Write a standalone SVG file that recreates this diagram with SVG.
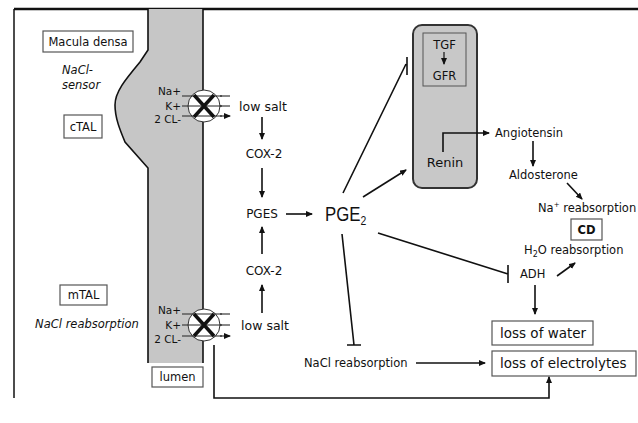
<svg xmlns="http://www.w3.org/2000/svg" width="638" height="423" viewBox="0 0 638 423">
<defs>
<marker id="ah" markerWidth="8" markerHeight="8" refX="6" refY="3" orient="auto" markerUnits="userSpaceOnUse">
<path d="M0,0 L7,3 L0,6 z" fill="#111"/>
</marker>
</defs>
<style>
text{font-family:"DejaVu Sans","Liberation Sans",sans-serif;fill:#111;font-size:11.5px}
.c{text-anchor:middle}
.r{text-anchor:end}
.it{font-style:italic}
.ion{font-size:10.5px}
.s12{font-size:12px}
.s125{font-size:12.5px}
.s13{font-size:13px}
.box{fill:#fff;stroke:#555;stroke-width:1.2}
.ln{stroke:#111;stroke-width:1.6;fill:none}
.ar{stroke:#111;stroke-width:1.6;fill:none;marker-end:url(#ah)}
.big{font-size:13.5px}
.thin{stroke:#222;stroke-width:1;fill:none}
.pge{font-family:"Liberation Sans",Arial,sans-serif;font-size:21px}
</style>
<rect width="638" height="423" fill="#fff"/>
<g id="frame">
<path d="M14,9 L638,9" stroke="#111" stroke-width="2.5"/>
<path d="M14,9 L14,398" stroke="#111" stroke-width="1.5"/>
</g>
<g id="tube">
<path d="M148,9 L148,50 L140,62 C125,80 115,92 115,105 C115,118 120,130 125,142 L148,168 L148,363 L203,363 L203,9 Z" fill="#c6c6c6"/>
<path d="M148,9 L148,50 L140,62 C125,80 115,92 115,105 C115,118 120,130 125,142 L148,168 L148,363" class="ln"/>
<path d="M203,9 L203,363" class="ln"/>
</g>
<g id="macula-densa"><rect class="box" x="43" y="31" width="90" height="21"/><text class="c" x="88" y="46">Macula densa</text></g>
<g id="nacl-sensor"><text class="it" x="62" y="74">NaCl-</text><text class="it" x="62" y="89">sensor</text></g>
<g id="ctal"><rect class="box" x="64" y="115" width="38" height="23"/><text class="c" x="83" y="131">cTAL</text></g>
<g id="mtal"><rect class="box" x="60" y="285" width="47" height="20"/><text class="c" x="83.5" y="299">mTAL</text></g>
<g id="nacl-reabs-italic"><text class="it c" x="87" y="328">NaCl reabsorption</text></g>
<g id="lumen"><rect class="box" x="152" y="367" width="51" height="20"/><text class="c" x="177.5" y="381">lumen</text></g>
<g id="transporter-top">
<text class="r ion" x="181" y="95">Na+</text>
<text class="r ion" x="181" y="110">K+</text>
<text class="r ion" x="181" y="123">2 CL-</text>
<circle cx="204" cy="106" r="16" fill="#fff" stroke="#333" stroke-width="1"/>
<path class="thin" d="M182,96 L222,96 M182,106 L222,106 M182,116 L222,116"/>
<path class="ar" style="stroke-width:1" d="M220,96 L230,96 M220,106 L230,106 M220,116 L230,116"/>
<path d="M194,95 L214,117 M214,95 L194,117" stroke="#111" stroke-width="3.5"/>
</g>
<g id="transporter-bottom">
<text class="r ion" x="181" y="314">Na+</text>
<text class="r ion" x="181" y="329">K+</text>
<text class="r ion" x="181" y="343">2 CL-</text>
<circle cx="204" cy="325" r="16" fill="#fff" stroke="#333" stroke-width="1"/>
<path class="thin" d="M182,314 L222,314 M182,325 L222,325 M182,336 L222,336"/>
<path class="ar" style="stroke-width:1" d="M220,314 L230,314 M220,325 L230,325 M220,336 L230,336"/>
<path d="M194,314 L214,336 M214,314 L194,336" stroke="#111" stroke-width="3.5"/>
</g>
<g id="low-salt-top"><text class="c s125" x="263" y="111">low salt</text></g>
<g id="cox2-top"><text class="c s12" x="264" y="158">COX-2</text></g>
<g id="pges"><text class="c s12" x="262" y="218">PGES</text></g>
<g id="pge2"><text class="pge" transform="translate(325,221) scale(0.8,1)">PGE<tspan font-size="13" dy="4">2</tspan></text></g>
<g id="cox2-bottom"><text class="c s12" x="264" y="275">COX-2</text></g>
<g id="low-salt-bottom"><text class="c s125" x="265" y="330">low salt</text></g>
<g id="renin">
<rect x="413" y="25" width="64" height="163" rx="9" fill="#c8c8c8" stroke="#333" stroke-width="2"/>
<rect x="423" y="33" width="43" height="53" fill="none" stroke="#555" stroke-width="1"/>
<text class="c" x="444.5" y="49">TGF</text>
<path class="ar" style="stroke-width:1.2" d="M444,52 L444,64"/>
<text class="c" x="444.5" y="80">GFR</text>
<text class="c s13" x="445" y="167">Renin</text>
</g>
<g id="angiotensin"><text x="495" y="137">Angiotensin</text></g>
<g id="aldosterone"><text x="509" y="179">Aldosterone</text></g>
<g id="na-reabs"><text x="538" y="212">Na<tspan font-size="7" dy="-5">+</tspan><tspan dy="5"> reabsorption</tspan></text></g>
<g id="cd"><rect class="box" x="571" y="219" width="31" height="21"/><text class="c" x="586.5" y="234" font-weight="bold">CD</text></g>
<g id="h2o-reabs"><text x="524" y="254">H<tspan font-size="8" dy="3">2</tspan><tspan dy="-3">O reabsorption</tspan></text></g>
<g id="adh"><text x="520" y="278">ADH</text></g>
<g id="loss-water"><rect class="box" x="492" y="321" width="101" height="24"/><text class="big" x="500" y="338">loss of water</text></g>
<g id="loss-electrolytes"><rect class="box" x="492" y="351" width="144" height="25"/><text class="big" x="500" y="368">loss of electrolytes</text></g>
<g id="nacl-reabs"><text x="304" y="367">NaCl reabsorption</text></g>
<g id="connectors">
<path class="ar" d="M262,117 L262,139"/>
<path class="ar" d="M262,168 L262,197"/>
<path class="ar" d="M286,214 L312,214"/>
<path class="ar" d="M262,254 L262,227"/>
<path class="ar" d="M262,313 L262,285"/>
<path class="ln" d="M343,193 L406,64 M407,57 L407,75"/>
<path class="ar" d="M363,197 L406,170"/>
<path class="ln" d="M378,233 L508,274 M508,265 L508,283"/>
<path class="ln" d="M342,234 L354,345 M347,345 L361,345"/>
<path class="ar" d="M443,152 L443,133 L489,133"/>
<path class="ar" d="M533,141 L533,166"/>
<path class="ar" d="M567,183 L582,199"/>
<path class="ar" d="M557,276 L575,263"/>
<path class="ar" d="M535,285 L535,314"/>
<path class="ar" d="M416,363 L485,363"/>
<path class="ar" d="M214,345 L214,398 L549,398 L549,377"/>
</g>
</svg>
